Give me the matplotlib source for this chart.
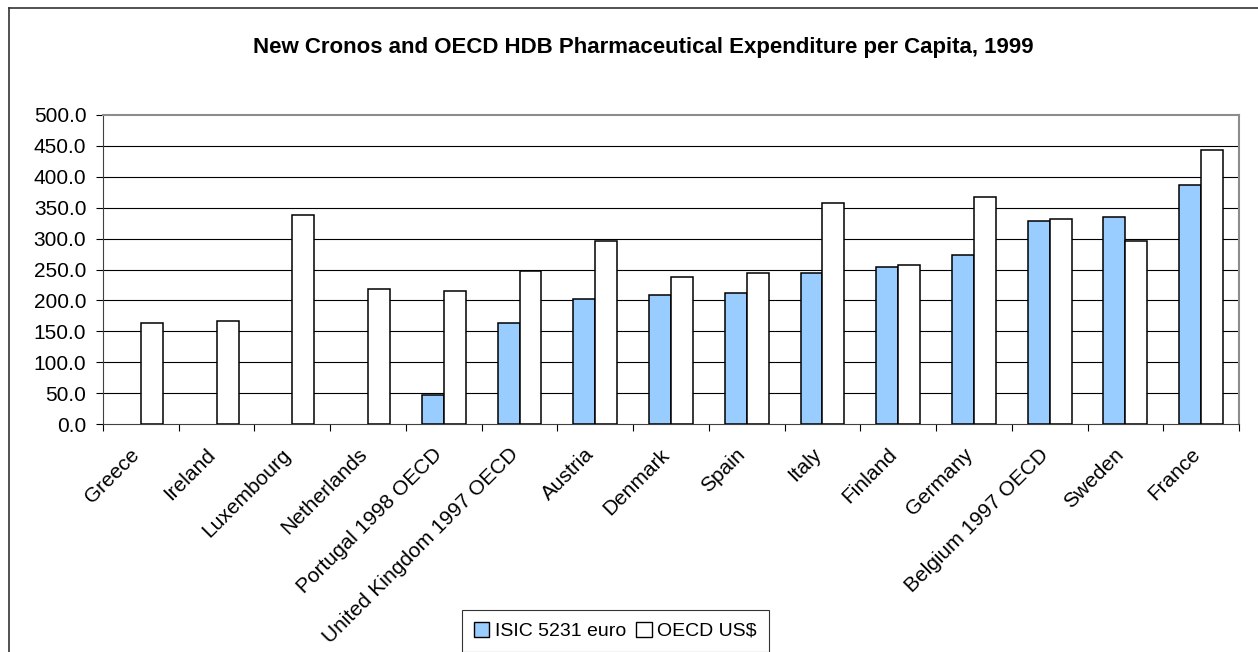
"""Pharmaceutical expenditure per capita, 1999: ISIC 5231 (euro) vs OECD HDB (US$)."""

import matplotlib
matplotlib.use("Agg")
import matplotlib.pyplot as plt
import matplotlib.transforms as mtransforms
import numpy as np
from matplotlib.lines import Line2D
from matplotlib.patches import Patch

plt.rcParams["font.family"] = ["Liberation Sans", "DejaVu Sans"]

COUNTRIES = ["Greece", "Ireland", "Luxembourg", "Netherlands", "Portugal 1998 OECD",
             "United Kingdom 1997 OECD", "Austria", "Denmark", "Spain", "Italy",
             "Finland", "Germany", "Belgium 1997 OECD", "Sweden", "France"]
ISIC_EURO = [np.nan, np.nan, np.nan, np.nan, 47.5, 164, 202, 209, 212, 244,
             254, 273, 328, 335, 386]
OECD_USD = [164, 167, 338, 218, 215, 248, 296, 238, 244, 357,
            258, 367, 332, 296, 444]
Y_TICKS = np.arange(0, 501, 50)

BLUE = "#99CCFF"

W, H = 1258, 652
fig = plt.figure(figsize=(W / 100, H / 100), dpi=100)
ax = fig.add_axes([103 / W, 1 - 424 / H, (1239 - 103) / W, (424 - 115) / H])

x = np.arange(len(COUNTRIES))
bw = 0.29
ax.bar(x - bw / 2, ISIC_EURO, bw, color=BLUE, edgecolor="black", linewidth=1.1, zorder=3)
ax.bar(x + bw / 2, OECD_USD, bw, color="white", edgecolor="black", linewidth=1.1, zorder=3)

ax.set_xlim(-0.5, len(COUNTRIES) - 0.5)
ax.set_ylim(0, 500)
ax.set_yticks(Y_TICKS)
ax.set_yticklabels([f"{v:.1f}" for v in Y_TICKS], fontsize=15)
ax.tick_params(axis="y", direction="out", length=5, width=0.8, pad=7)
for v in Y_TICKS[1:-1]:
    ax.axhline(v, color="black", linewidth=0.8, zorder=1)

ax.set_xticks(x)
ax.set_xticklabels(COUNTRIES, rotation=45, ha="right", va="top",
                   rotation_mode="anchor", fontsize=15)
ax.tick_params(axis="x", which="major", length=0, pad=15)
shift = mtransforms.ScaledTranslation(-11 / 100, 0, fig.dpi_scale_trans)
for lbl in ax.get_xticklabels():
    lbl.set_transform(lbl.get_transform() + shift)
ax.set_xticks(np.arange(-0.5, len(COUNTRIES), 1), minor=True)
ax.tick_params(axis="x", which="minor", direction="out", length=5, width=0.8)

for side in ["top", "right"]:
    ax.spines[side].set_color("#8c8c8c")
    ax.spines[side].set_linewidth(1.5)
ax.spines["left"].set_color("#404040")
ax.spines["bottom"].set_color("#404040")

fig.text(643 / W, 1 - 47 / H,
         "New Cronos and OECD HDB Pharmaceutical Expenditure per Capita, 1999",
         ha="center", va="center", fontsize=16, fontweight="bold")

handles = [Patch(facecolor=BLUE, edgecolor="black", linewidth=1.0),
           Patch(facecolor="white", edgecolor="black", linewidth=1.0)]
leg = fig.legend(handles, ["ISIC 5231 euro", "OECD US$"], loc="upper left",
                 bbox_to_anchor=(462 / W, 1 - 610 / H), ncol=2, fontsize=14,
                 frameon=True, fancybox=False, handlelength=0.8, handleheight=0.8,
                 handletextpad=0.3, columnspacing=0.5, borderpad=0.6,
                 borderaxespad=0)
leg.get_frame().set_edgecolor("black")
leg.get_frame().set_linewidth(0.8)

# outer chart-area border (only left and top edges fall inside the image)
fig.add_artist(Line2D([8.5 / W, 8.5 / W], [0, 1 - 7.5 / H], color="#333333", linewidth=1.2))
fig.add_artist(Line2D([8.5 / W, 1], [1 - 7.5 / H, 1 - 7.5 / H], color="#333333", linewidth=1.2))

fig.savefig("out.png", dpi=100)
